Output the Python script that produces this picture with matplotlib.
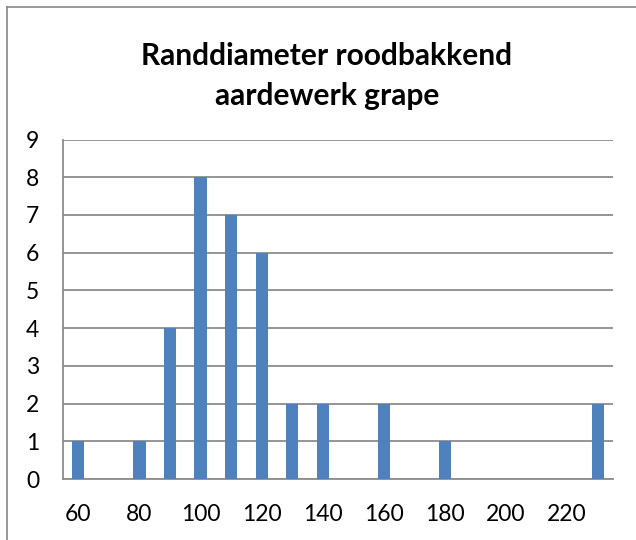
import numpy as np
import matplotlib.pyplot as plt
from matplotlib.lines import Line2D

# Data
diameter = [60, 70, 80, 90, 100, 110, 120, 130, 140, 150, 160, 170, 180, 190, 200, 210, 220, 230]
counts = [1, 0, 1, 4, 8, 7, 6, 2, 2, 0, 2, 0, 1, 0, 0, 0, 0, 2]
title_lines = ["Randdiameter roodbakkend", "aardewerk grape"]

plt.rcParams['font.family'] = ['Lato', 'DejaVu Sans']

fig = plt.figure(figsize=(6.36, 5.4), dpi=100)
ax = fig.add_axes([63/636, 1 - 479/540, (613 - 63)/636, (479 - 139.5)/540])

x = np.arange(len(diameter))
ax.bar(x, counts, width=0.4, color='#4F81BD', zorder=3)

ax.set_xlim(-0.5, len(diameter) - 0.5)
ax.set_ylim(0, 9)
ax.set_yticks(range(0, 10))
ax.set_xticks(x[::2])
ax.set_xticklabels([str(d) for d in diameter[::2]])

grid_col = '#8c8c8c'
ax.yaxis.grid(True, color=grid_col, linewidth=1.3, zorder=0)
for s in ['top', 'right']:
    ax.spines[s].set_visible(False)
ax.spines['left'].set_color(grid_col)
ax.spines['bottom'].set_color(grid_col)
ax.spines['left'].set_linewidth(1.3)
ax.spines['bottom'].set_linewidth(1.3)
ax.tick_params(axis='both', length=0, labelsize=16.5, colors='black')
ax.tick_params(axis='y', pad=17)
ax.tick_params(axis='x', pad=18)

# title
fig.text(327/636, 1 - 56/540, title_lines[0], ha='center', va='center',
         fontsize=21.5, fontweight='bold')
fig.text(327/636, 1 - 96/540, title_lines[1], ha='center', va='center',
         fontsize=21.5, fontweight='bold')

# chart frame (left and top edges visible)
fig.add_artist(Line2D([7/636, 7/636], [0, 1 - 7/540], color='#888888', linewidth=1.2))
fig.add_artist(Line2D([7/636, 1], [1 - 7/540, 1 - 7/540], color='#888888', linewidth=1.2))

plt.savefig("out.png", dpi=100)
